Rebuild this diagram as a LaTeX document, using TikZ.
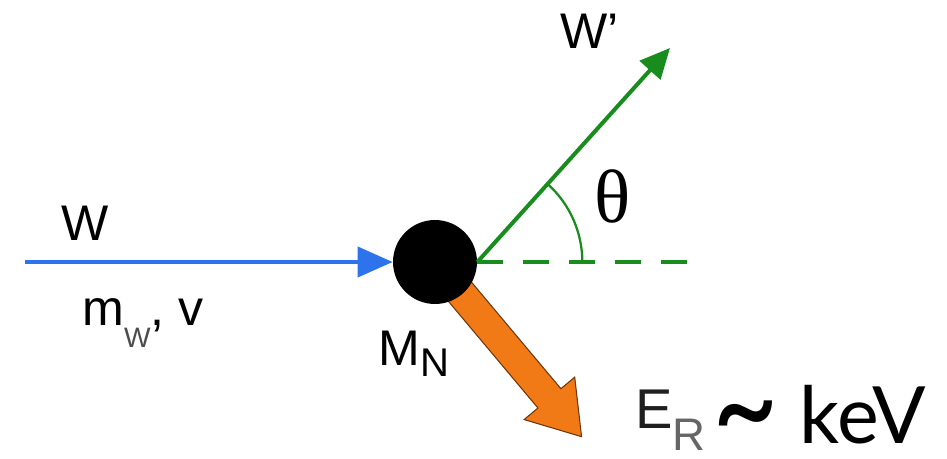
\documentclass[tikz,border=0pt]{standalone}
\usepackage{fontspec}
\setmainfont{Liberation Sans}
\newfontfamily\thetafont{Liberation Serif}
\newfontfamily\kevfont{Lato}
\usetikzlibrary{arrows.meta}
\definecolor{wblue}{RGB}{45,115,235}
\definecolor{wgreen}{RGB}{25,140,30}
\definecolor{recoil}{RGB}{242,122,22}
% indice abaisse : texte, descente, taille
\newcommand{\lowsub}[3]{\raisebox{-#2}{\fontsize{#3}{#3}\selectfont #1}}

\begin{document}
\begin{tikzpicture}[x=0.02cm, y=0.02cm,
	lbl/.style={font=\fontsize{28.5}{30}\selectfont, inner sep=0pt},
	trait/.style={line width=0.08cm}]
	\useasboundingbox (0,0) rectangle (947,458);
	%le noyau et son recul
	\coordinate (ctr) at (435,196);
	\begin{scope}[shift={(ctr)}, rotate=-50]
		\filldraw[fill=recoil, draw=black!55!recoil, line width=0.6pt] (0,15) -- (178,15) -- (178,33) -- (228,0) -- (178,-33) -- (178,-15) -- (0,-15) -- cycle;
		\coordinate (er) at (228,0);
	\end{scope}
	\node[circle, fill=black, minimum size=1.68cm, inner sep=0pt] (nuc) at (ctr) {};
	%fin
	%WIMP incident
	\coordinate (win) at (25,196);
	\draw[wblue, trait, -{Triangle[length=0.7cm, width=0.6cm]}] (win) -- (nuc);
	\node[lbl, anchor=base] (w) at (85,218) {W};
	\node[lbl, anchor=base west] (mwv) at (82,133) {m\lowsub{\color{black!70}W}{13pt}{16pt}, v};
	%WIMP diffuse
	\coordinate (wout) at (670,410);
	\coordinate (axe) at (692,196);
	\draw[wgreen, trait, -{Triangle[length=0.6cm, width=0.55cm]}] (nuc.east) -- (wout);
	\draw[wgreen, trait, dash pattern=on 0.52cm off 0.4cm] (nuc.east) -- (axe);
	\draw[wgreen, line width=0.045cm] (nuc.east) ++(105,0) arc[start angle=0, end angle=48, radius=2.1cm];
	\node[lbl, anchor=base west] (wp) at (560,410) {W’};
	\node[inner sep=0pt, font=\thetafont\fontsize{43}{45}\selectfont] (theta) at (613,262) {θ};
	%etiquettes du noyau
	\node[lbl, anchor=base west] (mn) at (378,93) {M\lowsub{N}{6.8pt}{22.8pt}};
	\node[inner sep=0pt, anchor=base west, font=\fontsize{31.9}{33}\selectfont, text=black!88] (er lbl) at (635,30) {E\lowsub{\color{black!60}R}{13pt}{26pt}};
	\node[inner sep=0pt, anchor=base west, font=\kevfont\fontsize{45}{47}\selectfont] (kev) at (712,15) {\raisebox{-7pt}[0pt][0pt]{\scalebox{1.45}[1.8]{\textasciitilde}}\ keV};
\end{tikzpicture}
\end{document}
